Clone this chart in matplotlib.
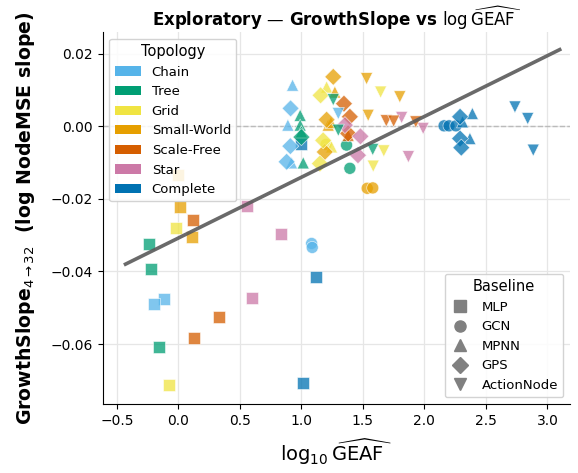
import numpy as np
import matplotlib
matplotlib.use("Agg")
import matplotlib.pyplot as plt
from matplotlib.patches import Patch
from matplotlib.lines import Line2D

# --- data ---
TOPOLOGIES = ["Chain", "Tree", "Grid", "Small-World", "Scale-Free", "Star", "Complete"]
TOPO_COLORS = ["#56B4E9", "#009E73", "#F0E442", "#E69F00", "#D55E00", "#CC79A7", "#0072B2"]
BASELINES = ["MLP", "GCN", "MPNN", "GPS", "ActionNode"]
BASE_MARKERS = ["s", "o", "^", "D", "v"]

# MLP
MLP_X = [0.01, 0.12, -0.02, 0.11, -0.24, -0.22, -0.115, -0.20, -0.156, -0.077,
         0.33, 0.126, 0.554, 0.833, 0.60, 1.115, 1.01, 1.00, 0.0]
MLP_Y = [-0.0222, -0.0259, -0.0280, -0.0306, -0.0325, -0.0393, -0.0477, -0.0490, -0.0607, -0.0714,
         -0.0525, -0.0584, -0.0219, -0.0298, -0.0474, -0.0415, -0.0706, -0.0048, -0.0135]
MLP_T = ["Small-World", "Scale-Free", "Grid", "Small-World", "Tree", "Tree", "Chain", "Chain", "Tree", "Grid",
         "Scale-Free", "Scale-Free", "Star", "Star", "Star", "Complete", "Complete", "Complete", "Small-World"]

# GCN
GCN_X = [1.083, 1.088, 1.535, 1.58, 1.394, 1.367, 1.20, 2.16, 2.20, 2.256]
GCN_Y = [-0.0323, -0.0334, -0.0171, -0.0170, -0.0116, -0.0052, -0.0050, 0.0001, 0.0001, 0.0001]
GCN_T = ["Chain", "Chain", "Small-World", "Small-World", "Tree", "Tree", "Grid", "Complete", "Complete", "Complete"]

# MPNN
MPNN_X = [0.928, 0.89, 0.92, 1.015, 0.99, 0.99, 1.00, 1.205, 1.245, 1.272, 1.218, 1.24,
          1.38, 2.39, 2.31, 2.37]
MPNN_Y = [0.0113, 0.0003, -0.0101, -0.0101, 0.0030, 0.0003, -0.0015, 0.0108, -0.0057, 0.0094, 0.0003, 0.0010,
          -0.0025, 0.0035, 0.0012, -0.0034]
MPNN_T = ["Chain", "Chain", "Chain", "Tree", "Tree", "Tree", "Tree", "Grid", "Grid", "Small-World", "Small-World",
          "Small-World", "Scale-Free", "Complete", "Complete", "Complete"]

# GPS
GPS_X = [0.912, 0.91, 0.88, 1.259, 1.205, 1.19, 1.156, 1.177, 1.15, 1.346, 1.394, 1.38,
         1.354, 1.48, 1.46, 2.29, 2.29, 2.30, 1.00]
GPS_Y = [0.0049, -0.0055, -0.0098, 0.0136, 0.0018, -0.0071, 0.0085, -0.0039, -0.0103, 0.0062, 0.0026, -0.0020,
         0.0003, -0.0028, -0.0080, 0.0026, -0.0034, -0.0059, -0.0030]
GPS_T = ["Chain", "Chain", "Chain", "Small-World", "Small-World", "Small-World", "Grid", "Grid", "Grid",
         "Scale-Free", "Scale-Free", "Scale-Free", "Star", "Star", "Star", "Complete", "Complete", "Complete", "Tree"]

# ActionNode
ACT_X = [1.53, 1.543, 1.80, 1.644, 1.67, 1.584, 1.815, 1.99, 1.87, 1.69, 1.75, 1.93,
         1.259, 1.30, 1.58, 2.736, 2.84, 2.885, 1.30]
ACT_Y = [0.0131, 0.0030, 0.0081, 0.0094, -0.0068, -0.0110, 0.0024, -0.0006, -0.0084, 0.0015, 0.0014, 0.0012,
         0.0073, -0.0011, -0.0064, 0.0053, 0.0021, -0.0066, 0.0035]
ACT_T = ["Small-World", "Small-World", "Small-World", "Grid", "Grid", "Grid", "Star", "Star", "Star",
         "Scale-Free", "Scale-Free", "Scale-Free", "Tree", "Tree", "Tree", "Complete", "Complete", "Complete", "Chain"]

# regression fit shown in the chart
FIT_SLOPE = 0.01674
FIT_INTERCEPT = -0.0308
FIT_X = [-0.43, 3.10]


def main():
    fig = plt.figure(figsize=(5.78, 4.73), dpi=100)
    ax = fig.add_axes([0.178, 0.146, 0.808, 0.786])

    ax.grid(True, color="#e6e6e6", linewidth=0.9, zorder=0)
    ax.set_axisbelow(True)
    for s in ["top", "right"]:
        ax.spines[s].set_visible(False)
    ax.axhline(0, color="#bbbbbb", linestyle="--", linewidth=1, zorder=1)

    color_of = dict(zip(TOPOLOGIES, TOPO_COLORS))
    groups = [(MLP_X, MLP_Y, MLP_T), (GCN_X, GCN_Y, GCN_T), (MPNN_X, MPNN_Y, MPNN_T),
              (GPS_X, GPS_Y, GPS_T), (ACT_X, ACT_Y, ACT_T)]
    for (xs, ys, ts), marker in zip(groups, BASE_MARKERS):
        cols = [color_of[t] for t in ts]
        ax.scatter(xs, ys, c=cols, marker=marker, s=75, alpha=0.75,
                   edgecolors="white", linewidths=0.5, zorder=3)

    fx = np.array(FIT_X)
    ax.plot(fx, FIT_INTERCEPT + FIT_SLOPE * fx, color="#5a5a5a", linewidth=2.6, alpha=0.9, zorder=4)

    ax.set_xlim(-0.614, 3.183)
    ax.set_ylim(-0.0765, 0.0259)
    ax.set_xticks([-0.5, 0.0, 0.5, 1.0, 1.5, 2.0, 2.5, 3.0])
    ax.set_yticks([-0.06, -0.04, -0.02, 0.0, 0.02])
    ax.tick_params(labelsize=10)

    ax.set_title(r"Exploratory — GrowthSlope vs $\log\widehat{\mathrm{GEAF}}$",
                 fontsize=12, fontweight="bold", pad=3)
    ax.set_xlabel(r"$\log_{10}\widehat{\mathrm{GEAF}}$", fontsize=14, labelpad=7)
    ax.set_ylabel(r"GrowthSlope$_{4\to32}$  (log NodeMSE slope)", fontsize=13.6,
                  fontweight="bold", labelpad=10)

    topo_handles = [Patch(facecolor=c, label=t) for t, c in zip(TOPOLOGIES, TOPO_COLORS)]
    leg1 = ax.legend(handles=topo_handles, title="Topology", loc="upper left",
                     fontsize=9.5, title_fontsize=10.5, framealpha=0.85)
    ax.add_artist(leg1)
    base_handles = [Line2D([], [], marker=m, color="gray", linestyle="", markersize=8, label=b)
                    for b, m in zip(BASELINES, BASE_MARKERS)]
    ax.legend(handles=base_handles, title="Baseline", loc="lower right", handlelength=1.6,
              fontsize=9.5, title_fontsize=10.5, framealpha=0.85)

    fig.savefig("out.png", dpi=100)


if __name__ == "__main__":
    main()
